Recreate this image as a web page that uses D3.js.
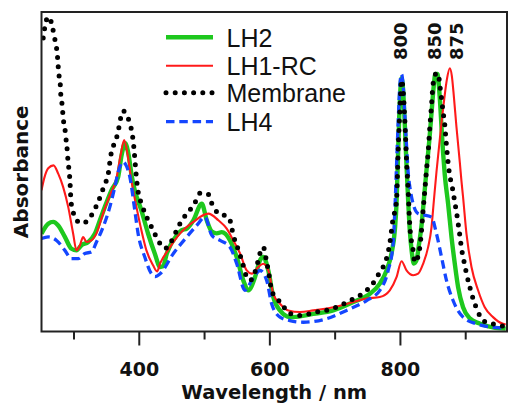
<!DOCTYPE html>
<html lang="en">
<head>
<meta charset="UTF-8">
<title>Absorbance spectra</title>
<script src="https://d3js.org/d3.v7.min.js"></script>
<style>
  body { margin: 0; background: #fff; }
  .tick text { font-family: "DejaVu Sans", sans-serif; font-weight: bold; font-size: 19px; }
</style>
</head>
<body>
<script>
// wavelength (nm) / absorbance (a.u.)
const lh2Nm  = [251,261.3,268.9,276.6,286.8,296.9,304.6,312.2,322.5,332.7,340.4,348,358.1,368.4,373.7,379.1,384.5,389,393.9,404,414.3,424.5,432.7,437.2,442.9,458.2,465.9,473.5,483.6,496.5,504.1,511.8,519.4,527,539.8,550,560.1,567.8,578,585.7,590.7,598.4,606,616.3,631.6,636.6,667.2,697.8,728.4,753.9,769.2,779.5,787.2,792.2,794.8,797.3,799.9,802.5,804.9,807.5,810.1,812.6,815.1,818.2,821.3,825.4,829,833.1,836.6,840.7,845.3,849.3,851.9,854.2,857.3,861.1,863.7,866.1,868.7,873.8,879,884,889.1,896.7,907,922.2,942.2,962];
const lh2Abs = [0.306,0.337,0.343,0.332,0.296,0.259,0.254,0.270,0.280,0.306,0.348,0.390,0.442,0.484,0.552,0.589,0.552,0.489,0.442,0.379,0.306,0.244,0.202,0.204,0.244,0.301,0.317,0.322,0.348,0.400,0.348,0.313,0.307,0.311,0.285,0.233,0.160,0.129,0.170,0.223,0.233,0.191,0.108,0.066,0.045,0.045,0.055,0.066,0.092,0.118,0.150,0.191,0.245,0.317,0.401,0.567,0.724,0.793,0.755,0.646,0.520,0.411,0.317,0.248,0.213,0.223,0.270,0.332,0.411,0.505,0.605,0.708,0.771,0.806,0.806,0.730,0.640,0.560,0.490,0.400,0.296,0.213,0.139,0.076,0.041,0.025,0.013,0.009];

const rcNm  = [251,255.2,261.3,269.4,276.6,284.2,291.9,299.5,304.6,309.8,314.8,319.9,327.5,335.2,345.4,355.7,365.8,372.2,377.6,383,388.7,396.4,404,411.7,421.9,428,432.7,447.9,463.3,483.6,506.6,521.9,534.7,544.8,555,565.3,573,583,590.7,598.4,606,616.3,629,646.9,667.2,697.8,728.4,748.9,769.2,784.5,794.8,802.5,810.1,820.2,827.9,835.5,843.2,848.4,852,856,860,864,868,872,876.4,879.5,882,886.6,891.7,894.3,896.7,901.9,909.6,919.7,929.9,942.6,957.9,962];
const rcAbs = [0.442,0.480,0.511,0.520,0.494,0.452,0.390,0.306,0.254,0.270,0.296,0.280,0.285,0.307,0.370,0.426,0.480,0.552,0.599,0.552,0.473,0.390,0.317,0.254,0.207,0.188,0.213,0.264,0.307,0.343,0.369,0.348,0.322,0.285,0.245,0.191,0.181,0.202,0.212,0.191,0.118,0.087,0.066,0.061,0.066,0.076,0.092,0.103,0.108,0.129,0.170,0.220,0.191,0.176,0.181,0.212,0.264,0.327,0.410,0.500,0.580,0.660,0.730,0.790,0.824,0.800,0.750,0.640,0.530,0.470,0.421,0.306,0.202,0.129,0.076,0.045,0.024,0.022];

const memNm  = [253.6,256.2,261.3,267.4,270.5,274,275.5,276.6,278.1,280.1,280.7,282.7,284.2,286.8,288.4,290.4,291.5,293,294.5,295.3,296,299.5,307.2,311.8,322.5,330.1,337.8,342.8,348,353.1,357.2,363.3,368.4,371,376,381.1,386.3,390.3,392.4,393.9,396,399,404,414.3,421.9,429.6,437.2,440.4,450.6,458.2,465.9,476,486.2,493.9,500,506.6,511.8,521.9,537.2,539.8,544.8,550,557.7,564.3,570.4,578,583,587,590.7,595.9,598.4,603.5,611.2,621.3,626.5,646.9,672.4,697.8,723.4,743.2,758.5,769.2,779.5,784.5,789.1,794.8,797.3,799.9,802.5,804.9,807.5,810.1,812.6,815.1,820.2,822.8,825.4,830.5,833.1,835.5,838.1,840.7,843.2,845.8,848.4,850.8,856,858.5,861.1,863.7,866.1,868.7,870.5,872.5,874.5,877,879,884,886.6,889.1,891.7,894.3,897.8,901.9,907,912,919.7,927.3,940.2,952.9,962];
const memAbs = [0.919,0.954,0.985,0.957,0.923,0.888,0.860,0.829,0.797,0.763,0.734,0.708,0.668,0.636,0.605,0.567,0.536,0.508,0.473,0.442,0.411,0.374,0.343,0.339,0.348,0.374,0.405,0.433,0.461,0.492,0.552,0.593,0.625,0.656,0.690,0.679,0.651,0.614,0.578,0.542,0.490,0.437,0.401,0.348,0.317,0.285,0.264,0.260,0.285,0.317,0.348,0.374,0.404,0.433,0.433,0.429,0.401,0.370,0.358,0.348,0.301,0.270,0.223,0.176,0.160,0.186,0.223,0.254,0.264,0.217,0.191,0.129,0.103,0.082,0.061,0.050,0.061,0.072,0.097,0.119,0.150,0.186,0.229,0.276,0.348,0.411,0.567,0.693,0.787,0.755,0.661,0.536,0.442,0.332,0.254,0.217,0.223,0.264,0.317,0.379,0.442,0.505,0.560,0.640,0.708,0.775,0.808,0.808,0.771,0.730,0.687,0.646,0.600,0.555,0.515,0.480,0.464,0.405,0.374,0.339,0.301,0.260,0.223,0.182,0.139,0.103,0.061,0.034,0.025,0.019,0.016];

const lh4Nm  = [251,261.3,274,286.8,296.9,307.2,317.4,327.5,335.2,345.4,355.7,363.3,368.4,376,380.6,386.3,393.9,399,409.2,419.3,425,432.7,453,473.5,488.8,501.5,511.8,524.5,539.8,550,562.7,573,585.7,595.9,603.5,616.3,631.6,651.9,687.7,718.3,748.9,769.2,782,789.6,792.2,794.8,797.3,799.9,802.5,804.9,807.5,810.1,812.6,816,820.2,827.9,838.1,848.4,856,863.7,871.3,881.4,896.7,917.2,942.6,962];
const lh4Abs = [0.291,0.296,0.285,0.254,0.228,0.228,0.244,0.249,0.280,0.327,0.390,0.452,0.499,0.531,0.520,0.484,0.379,0.306,0.233,0.181,0.172,0.181,0.244,0.296,0.332,0.358,0.301,0.285,0.264,0.212,0.129,0.160,0.191,0.160,0.087,0.045,0.034,0.029,0.040,0.066,0.097,0.129,0.191,0.275,0.379,0.520,0.656,0.771,0.805,0.771,0.677,0.583,0.499,0.442,0.400,0.369,0.364,0.358,0.306,0.233,0.160,0.097,0.045,0.024,0.013,0.011];

const seriesNames = ["LH2", "LH1-RC", "Membrane", "LH4"];
const majorTicks = [400, 600, 800];
const minorTicks = [300, 500, 700, 900];
const peakLabels = [800, 850, 875];

const width = 509, height = 403;
const mLeft = 41.5, mRight = 507, mTop = 12, mBottom = 331.5;

const svg = d3.select("body").append("svg")
    .attr("width", width)
    .attr("height", height);

const x = d3.scaleLinear().domain([251, 964]).range([mLeft, mRight]);
const y = d3.scaleLinear().domain([0, 1]).range([mBottom, mTop]);

svg.append("clipPath").attr("id", "plot")
  .append("rect")
    .attr("x", mLeft).attr("y", mTop)
    .attr("width", mRight - mLeft).attr("height", mBottom - mTop);

// minor ticks
svg.append("g")
    .attr("transform", "translate(0," + mBottom + ")")
    .call(d3.axisBottom(x).tickValues(minorTicks).tickSize(8).tickFormat(""))
    .call(g => g.select(".domain").remove())
    .call(g => g.selectAll("line").attr("stroke", "#222").attr("stroke-width", 2));

// major ticks + labels
svg.append("g")
    .attr("transform", "translate(0," + mBottom + ")")
    .call(d3.axisBottom(x).tickValues(majorTicks).tickSize(14).tickFormat(d3.format("d")))
    .call(g => g.select(".domain").remove())
    .call(g => g.selectAll("line").attr("stroke", "#222").attr("stroke-width", 2))
    .call(g => g.selectAll("text").attr("y", 44.5).attr("dy", 0).attr("fill", "#111"));

const styles = [
  { color: "#1ec81e", w: 4.4, dash: null },
  { color: "#ff1a1a", w: 2.1, dash: null },
  { color: "#000",    w: 5,   dash: "0,9.2" },
  { color: "#1446ff", w: 3.3, dash: "8.5,4.8" }
];

const data = [
  lh2Nm.map((d, i) => [d, lh2Abs[i]]),
  rcNm.map((d, i) => [d, rcAbs[i]]),
  memNm.map((d, i) => [d, memAbs[i]]),
  lh4Nm.map((d, i) => [d, lh4Abs[i]])
];

const line = d3.line()
    .x(d => x(d[0]))
    .y(d => y(d[1]))
    .curve(d3.curveMonotoneX);

const order = [0, 1, 3, 2];
svg.append("g").attr("clip-path", "url(#plot)")
  .selectAll("path")
  .data(order)
  .join("path")
    .attr("d", i => line(data[i]))
    .attr("fill", "none")
    .attr("stroke", i => styles[i].color)
    .attr("stroke-width", i => styles[i].w)
    .attr("stroke-dasharray", i => styles[i].dash)
    .attr("stroke-linecap", i => i === 2 ? "round" : "butt")
    .attr("stroke-linejoin", "round");

// frame
svg.append("rect")
    .attr("x", mLeft).attr("y", mTop)
    .attr("width", mRight - mLeft).attr("height", mBottom - mTop)
    .attr("fill", "none")
    .attr("stroke", "#222")
    .attr("stroke-width", 2);

// legend
const legY = [37.3, 65.7, 92.7, 121.7];
const leg = svg.append("g");
seriesNames.forEach((name, i) => {
  leg.append("line")
      .attr("x1", 166).attr("x2", 213)
      .attr("y1", legY[i]).attr("y2", legY[i])
      .attr("stroke", styles[i].color)
      .attr("stroke-width", styles[i].w)
      .attr("stroke-dasharray", styles[i].dash)
      .attr("stroke-linecap", i === 2 ? "round" : "butt");
  leg.append("text")
      .attr("x", 226.5).attr("y", legY[i] + 9.3)
      .attr("font-family", "Liberation Sans, Arial, sans-serif")
      .attr("font-size", "25px")
      .attr("fill", "#111")
      .text(name);
});

// peak labels
const peakOffset = [7, 8, 14];
svg.selectAll(".peak")
  .data(peakLabels)
  .join("text")
    .attr("class", "peak")
    .attr("transform", (d, i) => "translate(" + (x(d) + peakOffset[i]) + ",60) rotate(-90)")
    .attr("font-family", "DejaVu Sans, sans-serif")
    .attr("font-weight", "bold")
    .attr("font-size", "18px")
    .attr("fill", "#111")
    .text(d => d);

// axis labels
svg.append("text")
    .attr("x", (mLeft + mRight) / 2)
    .attr("y", 398.5)
    .attr("text-anchor", "middle")
    .attr("font-family", "DejaVu Sans, sans-serif")
    .attr("font-weight", "bold")
    .attr("font-size", "19.5px")
    .attr("fill", "#111")
    .text("Wavelength / nm");

svg.append("text")
    .attr("transform", "translate(28," + (mTop + mBottom) / 2 + ") rotate(-90)")
    .attr("text-anchor", "middle")
    .attr("font-family", "DejaVu Sans, sans-serif")
    .attr("font-weight", "bold")
    .attr("font-size", "20px")
    .attr("fill", "#111")
    .text("Absorbance");
</script>
</body>
</html>
